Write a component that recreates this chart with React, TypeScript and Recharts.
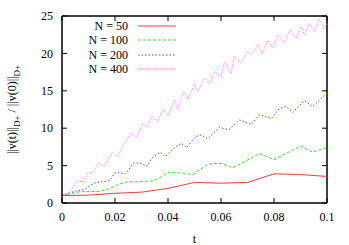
import { LineChart, Line, XAxis, YAxis, Legend, Label, ReferenceLine } from "recharts";

// N = 50
const n50T = [0, 0.01, 0.02, 0.03, 0.04, 0.05, 0.06, 0.07, 0.08, 0.09, 0.1];
const n50V = [1.0, 1.05, 1.3, 1.45, 1.95, 2.75, 2.65, 2.75, 3.9, 3.8, 3.55];

// N = 100
const n100T = [
  0, 0.0066, 0.014, 0.018, 0.021, 0.0248, 0.028, 0.034, 0.0368, 0.04, 0.0456,
  0.0494, 0.055, 0.06, 0.0645, 0.0745, 0.08, 0.09, 0.0946, 0.1,
];
const n100V = [
  1.0, 1.5, 1.55, 1.9, 2.45, 2.85, 2.8, 2.95, 3.35, 4.1, 4.0, 3.8, 5.2, 5.3,
  4.7, 6.6, 5.8, 7.6, 6.8, 7.4,
];

// N = 200
const n200T = [
  0, 0.0047, 0.0085, 0.011, 0.013, 0.0167, 0.018, 0.0198, 0.021, 0.024, 0.027,
  0.03, 0.032, 0.034, 0.037, 0.039, 0.0425, 0.045, 0.047, 0.0506, 0.0525,
  0.055, 0.0594, 0.063, 0.067, 0.0714, 0.0745, 0.079, 0.082, 0.0846, 0.087,
  0.0915, 0.0946, 0.1,
];
const n200V = [
  1.0, 1.55, 1.8, 2.45, 2.75, 2.9, 3.0, 4.0, 4.1, 3.9, 5.35, 5.3, 4.9, 6.0, 6.8,
  6.2, 7.4, 8.0, 7.4, 8.9, 9.1, 8.6, 10.1, 9.8, 11.1, 10.5, 11.8, 11.3, 12.6,
  12.9, 12.1, 13.7, 12.9, 14.7,
];

// N = 400
const n400T = [
  0, 0.003, 0.0055, 0.008, 0.0097, 0.0115, 0.014, 0.016, 0.019, 0.021, 0.0236,
  0.026, 0.028, 0.0305, 0.032, 0.034, 0.036, 0.038, 0.04, 0.0425, 0.0437,
  0.046, 0.0475, 0.05, 0.0512, 0.0538, 0.0557, 0.0576, 0.06, 0.0613, 0.0638,
  0.065, 0.0676, 0.07, 0.0714, 0.074, 0.0755, 0.0777, 0.0796, 0.0815, 0.084,
  0.086, 0.0884, 0.0903, 0.0915, 0.0934, 0.0953, 0.097, 0.099, 0.1,
];
const n400V = [
  1.0, 1.5, 2.8, 2.9, 4.0, 4.0, 5.4, 4.9, 6.8, 6.2, 8.0, 9.4, 8.7, 10.6, 10.1,
  11.6, 10.8, 12.5, 11.7, 13.8, 12.6, 14.9, 13.9, 15.9, 14.9, 16.7, 15.9, 17.6,
  16.9, 18.9, 17.3, 19.6, 18.7, 20.3, 19.8, 21.2, 20.0, 21.7, 20.7, 22.5, 21.4,
  23.2, 22.0, 23.6, 22.5, 24.0, 22.9, 24.6, 23.4, 24.0,
];

const xTicks = [0, 0.02, 0.04, 0.06, 0.08, 0.1];
const yTicks = [0, 5, 10, 15, 20, 25];

const toPoints = (ts: number[], vs: number[]) =>
  ts.map((t, i) => ({ t, v: vs[i] }));

const series = [
  { name: "N = 50", data: toPoints(n50T, n50V), color: "#f03c3c", dash: undefined },
  { name: "N = 100", data: toPoints(n100T, n100V), color: "#33dd33", dash: "3 2" },
  { name: "N = 200", data: toPoints(n200T, n200V), color: "#4a4aff", dash: "1.5 2" },
  { name: "N = 400", data: toPoints(n400T, n400V), color: "#ff77ff", dash: "1 1" },
];

// chart frame
const W = 349;
const H = 245;
const M = { top: 16, right: 22, bottom: 0, left: 0 };
const PLOT_TOP = M.top;
const PLOT_RIGHT = W - M.right;
const TICK = 5;

const FONT = "'Liberation Serif', 'Times New Roman', Times, serif";
const FS = 12;
const axisLine = { stroke: "#000", strokeWidth: 1.5 };
const tickLine = { stroke: "#000", strokeWidth: 1 };

const fmtX = (v: number) => (v === 0 ? "0" : String(Number(v.toFixed(2))));

// bottom tick label + mirrored tick on the top edge
function XTick(props: any) {
  const { x, y, payload } = props;
  return (
    <g>
      <line x1={x} x2={x} y1={PLOT_TOP} y2={PLOT_TOP + TICK} stroke="#000" strokeWidth={1} />
      <text x={x} y={y} dy="0.71em" textAnchor="middle" fontFamily={FONT} fontSize={FS} fill="#000">
        {fmtX(payload.value)}
      </text>
    </g>
  );
}

// left tick label + mirrored tick on the right edge
function YTick(props: any) {
  const { x, y, payload } = props;
  return (
    <g>
      <line x1={PLOT_RIGHT - TICK} x2={PLOT_RIGHT} y1={y} y2={y} stroke="#000" strokeWidth={1} />
      <text x={x} y={y} dy="0.355em" textAnchor="end" fontFamily={FONT} fontSize={FS} fill="#000">
        {payload.value}
      </text>
    </g>
  );
}

function YLabel(props: any) {
  const vb = props.viewBox || {};
  const cx = 16;
  const cy = (vb.y ?? 0) + (vb.height ?? 0) / 2;
  return (
    <text
      x={cx}
      y={cy}
      transform={`rotate(-90, ${cx}, ${cy})`}
      textAnchor="middle"
      fontFamily={FONT}
      fontSize={FS}
      fill="#000"
    >
      <tspan>||v(t)||</tspan>
      <tspan fontSize={9} dy={4}>D+</tspan>
      <tspan dy={-4}> / ||v(0)||</tspan>
      <tspan fontSize={9} dy={4}>D+</tspan>
    </text>
  );
}

function LegendBox() {
  return (
    <div style={{ fontFamily: FONT, fontSize: FS, lineHeight: "14.3px" }}>
      {series.map((s) => (
        <div key={s.name} style={{ display: "flex", alignItems: "center" }}>
          <span style={{ width: 66, textAlign: "right", color: "#000" }}>{s.name}</span>
          <svg width={48} height={14} style={{ marginLeft: 10 }}>
            <line
              x1={0}
              y1={7}
              x2={38}
              y2={7}
              stroke={s.color}
              strokeWidth={1}
              strokeDasharray={s.dash}
            />
          </svg>
        </div>
      ))}
    </div>
  );
}

export default function App() {
  return (
    <div style={{ position: "absolute", left: 0, top: 0, width: W, height: H, background: "#fff" }}>
      <LineChart width={W} height={H} margin={M}>
        <XAxis
          dataKey="t"
          type="number"
          domain={[0, 0.1]}
          ticks={xTicks}
          interval={0}
          allowDuplicatedCategory={false}
          height={42}
          tickSize={-TICK}
          tickMargin={14}
          tick={<XTick />}
          axisLine={axisLine}
          tickLine={tickLine}
        >
          <Label value="t" position="insideBottom" offset={2} style={{ fontFamily: FONT, fontSize: FS, fill: "#000" }} />
        </XAxis>
        <YAxis
          type="number"
          domain={[0, 25]}
          ticks={yTicks}
          interval={0}
          width={62}
          tickSize={-TICK}
          tickMargin={14}
          tick={<YTick />}
          axisLine={axisLine}
          tickLine={tickLine}
          label={<YLabel />}
        />
        <ReferenceLine y={25} stroke="#000" strokeWidth={1.5} ifOverflow="visible" />
        <ReferenceLine x={0.1} stroke="#000" strokeWidth={1.5} ifOverflow="visible" />
        <Legend
          layout="vertical"
          align="center"
          verticalAlign="middle"
          content={() => <LegendBox />}
          wrapperStyle={{ left: 62, top: 19, width: 130 }}
        />
        {series.map((s) => (
          <Line
            key={s.name}
            data={s.data}
            dataKey="v"
            name={s.name}
            type="linear"
            stroke={s.color}
            strokeWidth={1}
            strokeDasharray={s.dash}
            dot={false}
            activeDot={false}
            isAnimationActive={false}
          />
        ))}
      </LineChart>
    </div>
  );
}
